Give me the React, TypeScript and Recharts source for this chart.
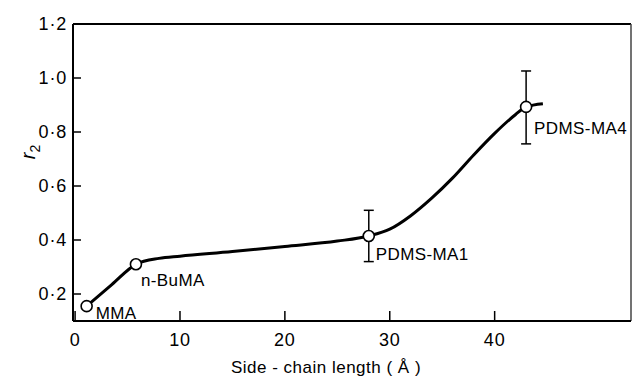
import React from 'react';
import {
  ComposedChart, Line, Scatter, XAxis, YAxis, ErrorBar, ReferenceLine, Label,
} from 'recharts';

// measured points (side-chain length in Å, r2)
const samples = ['MMA', 'n-BuMA', 'PDMS-MA1', 'PDMS-MA4'];
const sideChain = [1.1, 5.8, 28, 43];
const r2 = [0.155, 0.31, 0.415, 0.893];
const errDown = [0, 0, 0.095, 0.137];
const errUp = [0, 0, 0.095, 0.133];

// hand-drawn trend curve through the points
const curveX = [1.1, 3.5, 5.8, 8, 10, 15, 20, 25, 28, 30, 32, 34, 36, 38, 40, 42, 43, 44.6];
const curveY = [0.155, 0.235, 0.31, 0.332, 0.34, 0.357, 0.376, 0.396, 0.415, 0.44, 0.49, 0.555, 0.63, 0.715, 0.795, 0.865, 0.893, 0.905];

const xTicks = [0, 10, 20, 30, 40];
const yTicks = [0.2, 0.4, 0.6, 0.8, 1.0, 1.2];

const points = samples.map((name, i) => ({
  name,
  x: sideChain[i],
  y: r2[i],
  err: [errDown[i], errUp[i]],
}));
const curve = curveX.map((x, i) => ({ x, y: curveY[i] }));

// where each sample name sits relative to its marker
const labelOffset = [
  { dx: 9, dy: 7 },
  { dx: 5, dy: 16 },
  { dx: 7, dy: 19 },
  { dx: 8, dy: 22 },
];

const FONT = '"Liberation Sans", Arial, Helvetica, sans-serif';

const fmt = (v: number) => v.toFixed(1).replace('.', '·');

const YTick = (props: any) => {
  const { x, y, payload } = props;
  return (
    <g>
      <line x1={x + 6} x2={x + 14} y1={y} y2={y} stroke="#000" strokeWidth={1.5} />
      <text x={x} y={y} textAnchor="end" dominantBaseline="central" fontFamily={FONT} fontSize={18} letterSpacing={0.8} fill="#000">
        {fmt(payload.value)}
      </text>
    </g>
  );
};

const XTick = (props: any) => {
  const { x, y, payload } = props;
  return (
    <g>
      <line x1={x} x2={x} y1={y - 8} y2={y - 18} stroke="#000" strokeWidth={1.5} />
      <text x={x} y={y + 11} textAnchor="middle" dominantBaseline="central" fontFamily={FONT} fontSize={18} letterSpacing={0.8} fill="#000">
        {payload.value}
      </text>
    </g>
  );
};

const Marker = (props: any) => {
  const { cx, cy, payload, index } = props;
  const off = labelOffset[index] || { dx: 8, dy: 12 };
  return (
    <g>
      <circle cx={cx} cy={cy} r={5.5} fill="#fff" stroke="#000" strokeWidth={1.6} />
      <text x={cx + off.dx} y={cy + off.dy} dominantBaseline="central" fontFamily={FONT} fontSize={17} letterSpacing={0.4} fill="#000">
        {payload.name}
      </text>
    </g>
  );
};

const App = () => {
  return (
    <div style={{ position: 'absolute', left: 0, top: 0, background: '#fff' }}>
      <ComposedChart width={633} height={383} margin={{ top: 24, right: 2, left: 23, bottom: 7 }}>
        <XAxis
          type="number"
          dataKey="x"
          domain={[-0.2, 53]}
          ticks={xTicks}
          interval={0}
          tickSize={0}
          tickMargin={8}
          tickLine={false}
          tick={<XTick />}
          axisLine={{ stroke: '#000', strokeWidth: 2 }}
          height={55}
        >
          <Label
            value="Side - chain  length  ( Å )"
            position="insideBottom"
            offset={3}
            dx={-26}
            style={{ fontFamily: FONT, fontSize: 17, letterSpacing: 0.5, fill: '#000' }}
          />
        </XAxis>
        <YAxis
          type="number"
          dataKey="y"
          domain={[0.1, 1.2]}
          ticks={yTicks}
          interval={0}
          tickSize={0}
          tickMargin={6}
          tickLine={false}
          tick={<YTick />}
          axisLine={{ stroke: '#000', strokeWidth: 2 }}
          width={50}
          label={{
            content: (p: any) => {
              const vb = p.viewBox || { x: 23, y: 24, height: 297 };
              const cx = vb.x + 12;
              const cy = vb.y + 128;
              return (
                <text transform={`translate(${cx},${cy}) rotate(-90)`} textAnchor="middle" fontFamily={FONT} fontSize={20} fill="#000">
                  <tspan fontStyle="italic">r</tspan>
                  <tspan dy={5} fontSize={14}>2</tspan>
                </text>
              );
            },
          }}
        />
        <ReferenceLine y={1.2} stroke="#000" strokeWidth={2} />
        <ReferenceLine x={53} stroke="#444" strokeWidth={1.5} />
        <Line
          data={curve}
          dataKey="y"
          type="monotone"
          stroke="#000"
          strokeWidth={3}
          dot={false}
          activeDot={false}
          isAnimationActive={false}
        />
        <Scatter data={points} dataKey="y" shape={<Marker />} isAnimationActive={false}>
          <ErrorBar dataKey="err" direction="y" width={5} stroke="#000" strokeWidth={1.5} />
        </Scatter>
      </ComposedChart>
    </div>
  );
};

export default App;
